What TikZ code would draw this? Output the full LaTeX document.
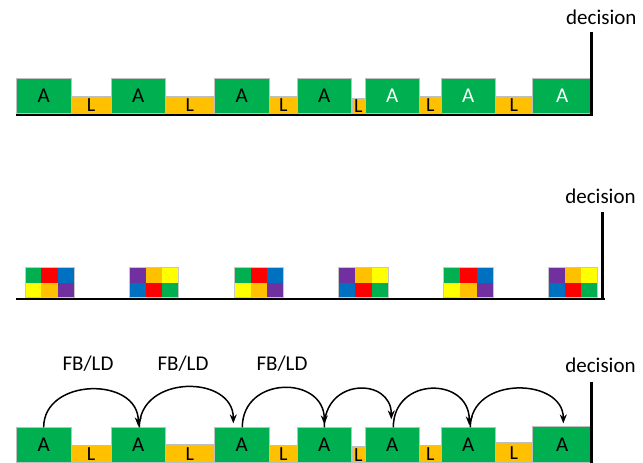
\documentclass[tikz,border=0pt]{standalone}
\usepackage{fontspec}
\setmainfont{Carlito}
\usetikzlibrary{arrows.meta}
\definecolor{agreen}{HTML}{00B050}
\definecolor{lorange}{HTML}{FFC000}
\definecolor{cred}{HTML}{FF0000}
\definecolor{cblue}{HTML}{0070C0}
\definecolor{cyellow}{HTML}{FFFF00}
\definecolor{cpurple}{HTML}{7030A0}
\newcommand\qblock[7]{%
  \fill[#2] (#1,267.3) rectangle ++(16.47,15.2);
  \fill[#3] (#1+16.47,267.3) rectangle ++(16.47,15.2);
  \fill[#4] (#1+32.94,267.3) rectangle ++(16.47,15.2);
  \fill[#5] (#1,282.5) rectangle ++(16.47,15.2);
  \fill[#6] (#1+16.47,282.5) rectangle ++(16.47,15.2);
  \fill[#7] (#1+32.94,282.5) rectangle ++(16.47,15.2);
  \draw[gray!45, line width=0.6pt] (#1,267.3) rectangle ++(49.4,30.4);
}
\begin{document}
\begin{tikzpicture}[x=1pt,y=-1pt,
  abox/.style={fill=agreen, draw=gray!50, line width=0.6pt, inner sep=0pt,
    minimum height=35pt, anchor=south west, font=\fontsize{21}{25}\selectfont},
  lbox/.style={fill=lorange, draw=gray!50, line width=0.6pt, inner sep=0pt,
    anchor=south west, font=\fontsize{20}{24}\selectfont},
  lab/.style={inner sep=0pt, anchor=base, font=\fontsize{21}{25}\selectfont},
  baseln/.style={line width=2pt, black},
  decln/.style={line width=2.8pt, black},
  hop/.style={line width=1.5pt, -{Stealth[length=9pt,width=7pt]}}]
\useasboundingbox (0,0) rectangle (643,463);

% ---------------- row 1 ----------------
\node[lbox, minimum width=40.3pt, minimum height=17.3pt] (r1l1) at (70.7,114) {L};
\node[lbox, minimum width=49pt, minimum height=17.3pt] (r1l2) at (165,114) {L};
\node[lbox, minimum width=28pt, minimum height=17.3pt] (r1l3) at (269,114) {L};
\node[lbox, minimum width=13pt, minimum height=15.7pt] (r1l4) at (351.5,114) {L};
\node[lbox, minimum width=22pt, minimum height=17.3pt] (r1l5) at (419,114) {L};
\node[lbox, minimum width=37pt, minimum height=17.3pt] (r1l6) at (495,114) {L};
\node[abox, minimum width=54.7pt] (r1a1) at (16,114) {A};
\node[abox, minimum width=54pt] (r1a2) at (111,114) {A};
\node[abox, minimum width=55pt] (r1a3) at (214,114) {A};
\node[abox, minimum width=54pt] (r1a4) at (297,114) {A};
\node[abox, minimum width=54pt, text=white] (r1a5) at (365,114) {A};
\node[abox, minimum width=54pt, text=white] (r1a6) at (441,114) {A};
\node[abox, minimum width=60pt, minimum height=35.5pt, text=white] (r1a7) at (532,114) {A};
\draw[baseln] (16,115) -- (593.2,115);
\draw[decln] (591.8,32) -- (591.8,116);
\node[lab] (dec1) at (601.3,24) {decision};

% ---------------- row 2 ----------------
\qblock{25}{agreen}{cred}{cblue}{cyellow}{lorange}{cpurple}
\qblock{129.3}{cpurple}{lorange}{cyellow}{cblue}{cred}{agreen}
\qblock{234.3}{agreen}{cred}{cblue}{cyellow}{lorange}{cpurple}
\qblock{338.7}{cpurple}{lorange}{cyellow}{cblue}{cred}{agreen}
\qblock{443.7}{agreen}{cred}{cblue}{cyellow}{lorange}{cpurple}
\qblock{548.3}{cpurple}{lorange}{cyellow}{cblue}{cred}{agreen}
\draw[baseln] (16,298.7) -- (605,298.7);
\draw[decln] (602.5,212) -- (602.5,299.7);
\node[lab] (dec2) at (600.5,203.3) {decision};

% ---------------- row 3 ----------------
\node[lbox, minimum width=40.3pt, minimum height=17pt] (r3l1) at (70.7,463) {L};
\node[lbox, minimum width=49pt, minimum height=18pt] (r3l2) at (165,463) {L};
\node[lbox, minimum width=28pt, minimum height=17pt] (r3l3) at (269,463) {L};
\node[lbox, minimum width=13pt, minimum height=16pt] (r3l4) at (351.5,463) {L};
\node[lbox, minimum width=22pt, minimum height=17pt] (r3l5) at (419,463) {L};
\node[lbox, minimum width=37pt, minimum height=20pt] (r3l6) at (495,463) {L};
\node[abox, minimum width=54.7pt] (r3a1) at (16,463) {A};
\node[abox, minimum width=54pt] (r3a2) at (111,463) {A};
\node[abox, minimum width=55pt] (r3a3) at (214,463) {A};
\node[abox, minimum width=54pt] (r3a4) at (297,463) {A};
\node[abox, minimum width=54pt] (r3a5) at (365,463) {A};
\node[abox, minimum width=54pt] (r3a6) at (441,463) {A};
\node[abox, minimum width=60pt, minimum height=36pt] (r3a7) at (532,463) {A};
\draw[decln] (591.7,381.7) -- (591.7,463);
\node[lab] (dec3) at (600.5,372) {decision};

\node[lab] (fb1) at (88,370) {FB/LD};
\node[lab] (fb2) at (183,370) {FB/LD};
\node[lab] (fb3) at (282,370) {FB/LD};

\draw[hop] (r3a1.north) .. controls +(0,-50) and +(0,-50) .. ([yshift=1pt]r3a2.north);
\draw[hop] ([xshift=1pt]r3a2.north) .. controls +(0,-53) and +(0,-49) .. ([xshift=-8.5pt,yshift=4pt]r3a3.north);
\draw[hop] ([xshift=0.5pt]r3a3.north) .. controls +(0,-52) and +(0,-49) .. ([yshift=3pt]r3a4.north);
\draw[hop] (r3a4.north) .. controls +(0,-50) and +(0,-42) .. ([xshift=-1pt,yshift=8pt]r3a5.north);
\draw[hop] ([xshift=1pt]r3a5.north) .. controls +(0,-51) and +(0,-49) .. ([xshift=1pt,yshift=2pt]r3a6.north);
\draw[hop] ([xshift=2pt]r3a6.north) .. controls +(0,-52) and +(0,-46) .. ([xshift=1pt,yshift=3pt]r3a7.north);
\end{tikzpicture}
\end{document}
